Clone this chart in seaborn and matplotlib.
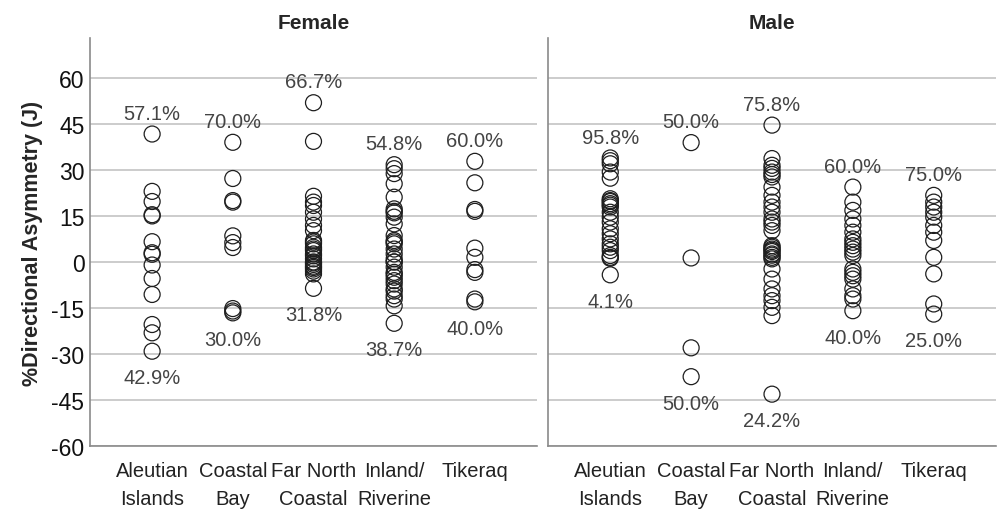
import matplotlib
matplotlib.use("Agg")
import matplotlib.pyplot as plt
import numpy as np
import pandas as pd
import seaborn as sns

# ---- data -------------------------------------------------------------
regions = ["Aleutian\nIslands", "Coastal\nBay", "Far North\nCoastal",
           "Inland/\nRiverine", "Tikeraq"]

aleutian_f = [41.7, 23.0, 19.7, 15.4, 15.0, 6.6, 3.0, 2.5, -1.0, -5.4,
              -10.6, -20.4, -23.1, -29.1]
coastal_f = [39.0, 27.2, 20.0, 19.5, 8.5, 6.3, 4.7, -15.2, -16.0, -16.6]
far_north_f = [51.9, 39.3, 21.4, 19.5, 18.4, 16.2, 14.0, 11.9, 10.2, 7.0,
               6.5, 5.9, 4.8, 4.2, 3.7, 2.6, 2.0, 1.0, 0.0, -0.3,
               -0.8, -1.4, -1.8, -2.3, -3.0, -3.9, -8.6]
inland_f = [31.7, 30.4, 28.8, 25.5, 21.1, 17.3, 16.5, 16.0, 14.6, 12.4,
            8.6, 7.0, 6.5, 5.9, 4.2, 2.6, 1.0, 0.0, 0.0, -1.7,
            -3.4, -4.0, -5.0, -6.1, -7.2, -8.8, -9.5, -11.0, -12.1, -14.3,
            -20.0]
tikeraq_f = [32.8, 25.8, 17.1, 16.5, 4.5, 1.5, -2.5, -3.4, -12.1, -13.0]

aleutian_m = [33.9, 33.0, 32.0, 29.3, 27.3, 20.6, 20.0, 19.7, 19.0, 18.5,
              17.9, 16.2, 14.6, 13.0, 10.8, 9.2, 7.5, 5.9, 4.8, 3.7,
              2.1, 1.5, 1.2, -4.2]
coastal_m = [38.9, 1.3, -28.0, -37.4]
far_north_m = [44.6, 33.7, 31.5, 30.5, 29.3, 28.5, 27.7, 24.4, 21.7, 19.5,
               17.9, 16.2, 14.0, 13.0, 11.9, 10.2, 5.3, 4.8, 4.2, 3.8,
               3.4, 2.6, 2.2, 1.5, 1.0, -2.3, -5.6, -8.8, -11.0, -12.6,
               -14.8, -17.5, -43.1]
inland_m = [24.4, 19.5, 16.8, 14.0, 11.9, 9.7, 7.5, 6.4, 5.3, 4.2,
            3.2, 2.1, -2.3, -3.4, -4.5, -5.6, -8.8, -11.0, -12.1, -15.9]
tikeraq_m = [21.7, 19.5, 17.9, 16.2, 14.6, 11.9, 9.7, 7.0, 1.5, -3.9,
             -13.7, -17.0]

female_pos_pct = ["57.1%", "70.0%", "66.7%", "54.8%", "60.0%"]
female_neg_pct = ["42.9%", "30.0%", "31.8%", "38.7%", "40.0%"]
male_pos_pct = ["95.8%", "50.0%", "75.8%", "60.0%", "75.0%"]
male_neg_pct = ["4.1%", "50.0%", "24.2%", "40.0%", "25.0%"]

y_ticks = [-60, -45, -30, -15, 0, 15, 30, 45, 60]


def build_frame(groups):
    rows = []
    for region, vals in zip(regions, groups):
        rows += [(region, v) for v in vals]
    return pd.DataFrame(rows, columns=["region", "da"])


female = build_frame([aleutian_f, coastal_f, far_north_f, inland_f, tikeraq_f])
male = build_frame([aleutian_m, coastal_m, far_north_m, inland_m, tikeraq_m])

# ---- style ------------------------------------------------------------
sns.set_theme(style="white")
plt.rcParams["font.family"] = ["Liberation Sans", "DejaVu Sans"]
plt.rcParams["axes.unicode_minus"] = False

fig = plt.figure(figsize=(10.03, 5.10), dpi=100)
W, H = 1003, 510
ax_f = fig.add_axes([90 / W, (H - 447) / H, 447 / W, 408 / H])
ax_m = fig.add_axes([548 / W, (H - 447) / H, 448 / W, 408 / H])

spine_col = "#8a8a8a"
grid_col = "#cccccc"


def draw_panel(ax, df, pos_lbl, neg_lbl, title, show_y):
    for t in y_ticks:
        ax.axhline(t, color=grid_col, lw=1.4, zorder=0)
    sns.stripplot(data=df, x="region", y="da", order=regions, jitter=False,
                  color="#1e1e1e", size=11.5, linewidth=0.9, ax=ax, zorder=3)
    for coll in ax.collections:
        coll.set_facecolor("none")
        coll.set_edgecolor("#1e1e1e")
        coll.set_linewidth(0.9)

    stats = df.groupby("region", sort=False)["da"].agg(["max", "min"])
    for i, reg in enumerate(regions):
        ax.annotate(pos_lbl[i], (i, stats.loc[reg, "max"]),
                    xytext=(0, 15), textcoords="offset points",
                    ha="center", va="center", fontsize=14.5, color="#444444")
        ax.annotate(neg_lbl[i], (i, stats.loc[reg, "min"]),
                    xytext=(0, -19), textcoords="offset points",
                    ha="center", va="center", fontsize=14.5, color="#444444")

    ax.set_xlim(-0.77, 4.77)
    ax.set_ylim(-60, 73)
    ax.set_yticks(y_ticks)
    ax.set_xlabel("")
    ax.set_title(title, fontsize=15, fontweight="bold", pad=7)
    ax.tick_params(axis="x", length=0, pad=11, labelsize=14.5,
                   labelcolor="#222222")
    ax.tick_params(axis="y", length=0, pad=4, labelsize=16.5,
                   labelcolor="#111111")
    for lbl in ax.get_xticklabels():
        lbl.set_linespacing(1.6)
    for side in ["top", "right"]:
        ax.spines[side].set_visible(False)
    for side in ["left", "bottom"]:
        ax.spines[side].set_color(spine_col)
        ax.spines[side].set_linewidth(1.2)
    if show_y:
        ax.set_ylabel("%Directional Asymmetry (J)", fontsize=15.5,
                      fontweight="bold", labelpad=6)
    else:
        ax.set_ylabel("")
        ax.set_yticklabels([])


draw_panel(ax_f, female, female_pos_pct, female_neg_pct, "Female", True)
draw_panel(ax_m, male, male_pos_pct, male_neg_pct, "Male", False)

fig.savefig("out.png", dpi=100)
